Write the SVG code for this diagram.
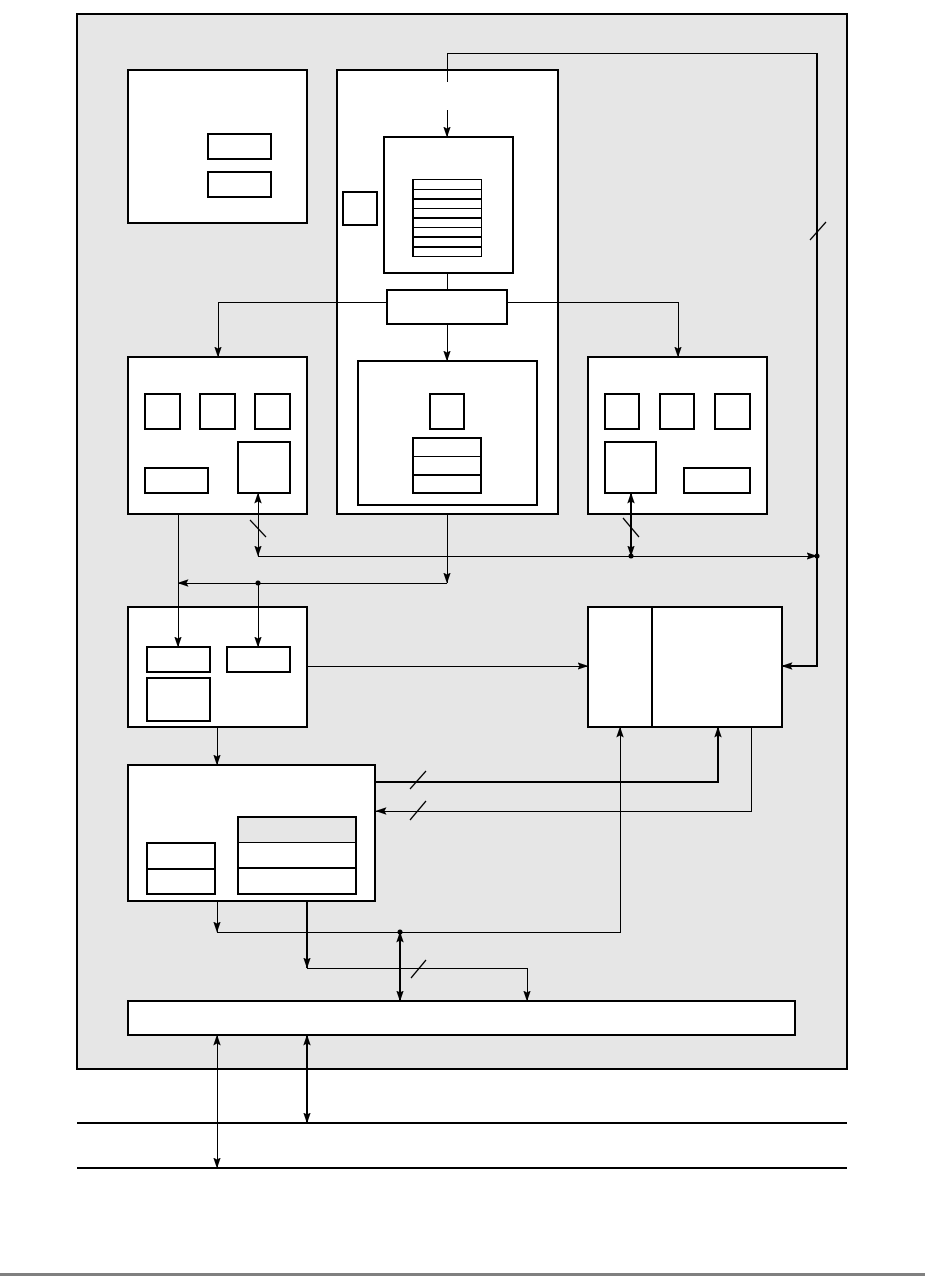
<svg xmlns="http://www.w3.org/2000/svg" width="925" height="1276" viewBox="0 0 925 1276">
<style>
.frame{fill:#e6e6e6;stroke:#000;stroke-width:1.5;shape-rendering:crispEdges}
.box{fill:#fff;stroke:#000;stroke-width:1.5;shape-rendering:crispEdges}
.in{fill:#fff;stroke:#000;stroke-width:1.2;shape-rendering:crispEdges}
.ing{fill:#e6e6e6;stroke:#000;stroke-width:1.2;shape-rendering:crispEdges}
.sep{stroke:#000;stroke-width:1.2;fill:none;shape-rendering:crispEdges}
.sepb{stroke:#000;stroke-width:2;fill:none;shape-rendering:crispEdges}
.w{stroke:#000;stroke-width:1;fill:none;shape-rendering:crispEdges}
.t{stroke:#000;stroke-width:2;fill:none;shape-rendering:crispEdges}
.sl{stroke:#000;stroke-width:1.2;fill:none}
.a{marker-end:url(#ah)}
.s{marker-start:url(#ah)}
</style>
<defs>
<marker id="ah" markerUnits="userSpaceOnUse" markerWidth="11" markerHeight="8" refX="10.5" refY="3.75" orient="auto-start-reverse">
<path d="M0,0 L11,3.75 L0,7.5 L2,3.75 z" fill="#000"/>
</marker>
</defs>
<rect id="frame" class="frame" x="77" y="14" width="770" height="1055"/>

<g id="nodeA">
<rect class="box" x="128" y="70" width="179" height="153"/>
<rect class="in" x="208" y="134" width="63" height="25"/>
<rect class="in" x="208" y="172" width="63" height="25"/>
</g>

<g id="nodeB">
<rect class="box" x="337" y="70" width="221" height="444"/>
<rect class="in" x="343" y="192" width="34" height="33"/>
</g>

<g id="nodeC">
<rect class="box" x="384" y="137" width="129" height="136" stroke-width="2"/>
<rect class="in" x="413" y="179.5" width="68.5" height="77" stroke-width="1.5"/>
<line class="sep" x1="413" y1="189.1" x2="481.5" y2="189.1"/>
<line class="sepb" x1="413" y1="198.8" x2="481.5" y2="198.8"/>
<line class="sep" x1="413" y1="208.4" x2="481.5" y2="208.4"/>
<line class="sepb" x1="413" y1="218" x2="481.5" y2="218"/>
<line class="sep" x1="413" y1="227.6" x2="481.5" y2="227.6"/>
<line class="sepb" x1="413" y1="237.3" x2="481.5" y2="237.3"/>
<line class="sep" x1="413" y1="246.9" x2="481.5" y2="246.9"/>
</g>

<g id="nodeD">
<rect class="in" x="387" y="290" width="120" height="34"/>
</g>

<g id="nodeE">
<rect class="box" x="128" y="357" width="179" height="157"/>
<rect class="in" x="145" y="394" width="35" height="35"/>
<rect class="in" x="200" y="394" width="35" height="35"/>
<rect class="in" x="255" y="394" width="35" height="35"/>
<rect class="in" x="145" y="468" width="63" height="25"/>
<rect class="in" x="238" y="442" width="52" height="51"/>
</g>

<g id="nodeH">
<rect class="box" x="358" y="361" width="179" height="144" stroke-width="2"/>
<rect class="in" x="430" y="394" width="34" height="35"/>
<rect class="in" x="413" y="438" width="68" height="55"/>
<line class="sep" x1="413" y1="456.3" x2="481" y2="456.3"/>
<line class="sepb" x1="413" y1="475" x2="481" y2="475"/>
</g>

<g id="nodeG">
<rect class="box" x="588" y="357" width="179" height="157"/>
<rect class="in" x="605" y="394" width="34" height="35"/>
<rect class="in" x="660" y="394" width="34" height="35"/>
<rect class="in" x="715" y="394" width="35" height="35"/>
<rect class="in" x="605" y="442" width="51" height="51"/>
<rect class="in" x="684" y="468" width="66" height="25" stroke-width="1.5"/>
</g>

<g id="nodeI">
<rect class="box" x="128" y="607" width="179" height="120"/>
<rect class="in" x="147" y="647" width="63" height="25" stroke-width="1.5"/>
<rect class="in" x="227" y="647" width="63" height="25" stroke-width="1.5"/>
<rect class="in" x="147" y="678" width="63" height="43" stroke-width="1.5"/>
</g>

<g id="nodeF">
<rect class="box" x="588" y="607" width="194" height="120" stroke-width="2"/>
<line class="sepb" x1="652" y1="607" x2="652" y2="727"/>
</g>

<g id="nodeJ">
<rect class="box" x="128" y="765" width="247" height="136"/>
<rect class="in" x="147" y="843" width="68" height="51"/>
<line class="sepb" x1="147" y1="868.5" x2="215" y2="868.5"/>
<rect class="ing" x="238" y="817" width="118" height="25.5"/>
<rect class="in" x="238" y="842.5" width="118" height="25.5"/>
<rect class="in" x="238" y="868" width="118" height="26"/>
</g>

<g id="nodeK">
<rect class="box" x="128" y="1001" width="667" height="34" stroke-width="2"/>
</g>

<g id="connectors">
<path class="w" d="M447,82 V53 H817"/>
<path class="t" d="M817,53 V666 H783"/>
<path class="w a" d="M817,666 H782"/>
<line class="w a" x1="447" y1="110" x2="447" y2="137"/>
<line class="sl" x1="810" y1="240" x2="826" y2="222"/>
<line class="w" x1="447" y1="273" x2="447" y2="290"/>
<path class="w a" d="M387,302 H218 V357"/>
<path class="w a" d="M507,302 H678 V357"/>
<line class="w a" x1="447" y1="324" x2="447" y2="361"/>
<line class="w a s" x1="258" y1="493" x2="258" y2="556"/>
<line class="sl" x1="250" y1="520" x2="266" y2="537"/>
<line class="t a s" x1="631" y1="493" x2="631" y2="556"/>
<line class="sl" x1="623" y1="518" x2="639" y2="537"/>
<line class="w a" x1="258" y1="556" x2="817" y2="556"/>
<circle cx="631" cy="556" r="2.5" fill="#000"/>
<circle cx="817" cy="556" r="2.5" fill="#000"/>
<line class="w a" x1="447" y1="514" x2="447" y2="583"/>
<line class="w a" x1="447" y1="583" x2="178" y2="583"/>
<circle cx="258" cy="583" r="2.5" fill="#000"/>
<line class="w a" x1="258" y1="583" x2="258" y2="647"/>
<line class="w a" x1="178" y1="514" x2="178" y2="647"/>
<line class="w a" x1="307" y1="666" x2="588" y2="666"/>
<line class="w a" x1="217" y1="727" x2="217" y2="765"/>
<path class="t a" d="M375,782 H718 V727"/>
<line class="sl" x1="410" y1="789" x2="426" y2="771"/>
<path class="w a" d="M751,726 V811 H376"/>
<line class="sl" x1="410" y1="820" x2="426" y2="801"/>
<line class="w a" x1="217" y1="901" x2="217" y2="932"/>
<path class="w a" d="M217,932 H620 V727"/>
<circle cx="400" cy="932" r="2.5" fill="#000"/>
<line class="t a" x1="307" y1="901" x2="307" y2="968"/>
<path class="w a" d="M307,968 H527 V1001"/>
<line class="t a s" x1="400" y1="932" x2="400" y2="1001"/>
<line class="sl" x1="411" y1="978" x2="426" y2="960"/>
<line class="w a s" x1="217" y1="1035" x2="217" y2="1168"/>
<line class="t a s" x1="307" y1="1035" x2="307" y2="1123"/>
</g>

<g id="external">
<line x1="77" y1="1123" x2="847" y2="1123" stroke="#000" stroke-width="1.2" shape-rendering="crispEdges"/>
<line x1="77" y1="1168" x2="847" y2="1168" stroke="#000" stroke-width="2" shape-rendering="crispEdges"/>
</g>
<rect x="0" y="1273" width="925" height="3" fill="#808080"/>
</svg>
